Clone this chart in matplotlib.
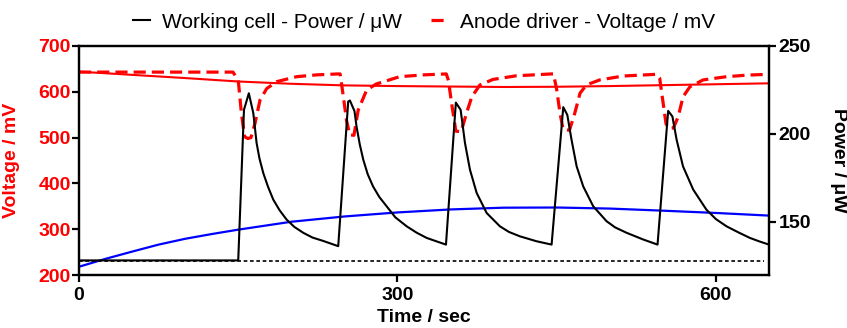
import matplotlib
matplotlib.use("Agg")
import matplotlib.pyplot as plt

plt.rcParams['font.family'] = ['Liberation Sans', 'DejaVu Sans']

# ---- data ----
# Working cell power (uW), right axis
power_t = [0, 150, 155.4, 160, 164.2, 167.3, 170, 173.6, 178, 183, 189, 195.6, 203, 211.3, 220, 230, 244.2,
           253.6, 255.2, 259.5, 261.5, 264.5, 267.8, 272, 277, 283, 289.8, 298, 308.7, 318, 327.5, 337, 345.7,
           355, 359.5, 363.6, 368.3, 374.6, 384, 396.5, 405, 415.4, 431, 445.2,
           456.2, 460, 464, 468.8, 475, 484.4, 497, 505, 515.9, 531.5, 545,
           555, 559, 563, 569, 578.6, 591, 600, 610, 621, 632, 641, 650]
power_v = [128, 128, 213.7, 223.1, 211.8, 194.8, 186, 177.7, 170, 162.6, 156.5, 151.2, 147, 143.7, 141, 139.1, 136.1,
           218.4, 219, 213, 204, 194, 185.3, 177, 170.1, 164, 158.8, 152.5, 147.4, 143.8, 140.8, 138.8, 137,
           217.8, 213.7, 194.8, 179.6, 166.4, 155, 147.4, 144.2, 141.7, 138.9, 137,
           215.2, 210.8, 196.6, 181.5, 170.1, 158.8, 150.3, 146.8, 143.7, 139.9, 137,
           213.1, 209.9, 196.6, 181.5, 168.3, 156.9, 151.5, 147.4, 144, 140.8, 138.8, 137]

# Power baseline (dotted) and power trend (blue), right axis
baseline_t = [0, 645]
baseline_v = [127.5, 127.5]
trend_p_t = [0, 25, 50, 75, 100, 125, 150, 200, 250, 300, 350, 400, 450, 500, 550, 600, 650]
trend_p_v = [124.4, 128.9, 133, 137, 140.3, 143, 145.5, 150, 153, 155.3, 157, 158, 158.1, 157.5, 156.3, 155, 153.5]

# Anode driver voltage (mV), left axis
volt_t = [0, 145, 150, 153, 156, 159, 162, 165.8, 170.5, 176.8, 186, 205, 224, 244,
          246, 249, 252, 255, 259, 263, 271, 280, 302, 325, 346,
          348, 351, 355, 360, 365, 370, 377.7, 390, 412, 445,
          447, 450, 453, 456, 462, 467, 472, 478, 490.7, 512.7, 544,
          547, 550, 553, 556, 560, 564.5, 569, 575.5, 588, 610, 630, 650]
volt_v = [643, 643, 626, 553, 502, 498, 500, 531, 582, 607, 622, 633, 637, 639,
          639, 590, 538, 506, 505, 560, 604, 617, 633, 637, 639,
          625, 575, 514, 513, 553, 589, 615, 627, 635, 639,
          639, 605, 555, 518, 516, 553, 597, 615, 626, 634.5, 638.2,
          630, 580, 530, 520, 521, 546, 589, 611, 626, 633, 636.5, 638.2]

# Voltage trend (red solid), left axis
trend_v_t = [0, 50, 100, 150, 200, 250, 300, 350, 400, 450, 500, 550, 600, 650]
trend_v_v = [644, 637, 630, 622.5, 617.5, 614, 612.5, 611.5, 610.5, 611, 612.5, 614.5, 616.5, 618.5]

left_ticks = [200, 300, 400, 500, 600, 700]
right_ticks = [150, 200, 250]
x_ticks = [0, 300, 600]

# ---- figure ----
fig = plt.figure(figsize=(8.47, 3.28), dpi=100)
ax = fig.add_axes([79/847, 1-275/328, 690/847, 229/328])
ax2 = ax.twinx()

red = '#ff0000'
ax.plot(trend_v_t, trend_v_v, color=red, lw=1.5, solid_capstyle='butt')
lv, = ax.plot(volt_t, volt_v, color=red, lw=2.3, ls=(0, (3.8, 1.9)))

ax2.plot(trend_p_t, trend_p_v, color='#0000ff', lw=1.6)
ax2.plot(baseline_t, baseline_v, color='black', lw=1.2, ls=(0, (2.2, 1.6)))
lp, = ax2.plot(power_t, power_v, color='black', lw=1.5)

ax.set_xlim(0, 650)
ax.set_ylim(200, 700)
ax2.set_ylim(119.7, 250)
ax.set_xticks(x_ticks)
ax.set_yticks(left_ticks)
ax2.set_yticks(right_ticks)

for a in (ax, ax2):
    for s in a.spines.values():
        s.set_linewidth(1.6)

ax.tick_params(axis='y', labelcolor=red, color='black', labelsize=14, length=5, width=1.6, pad=1, direction='out')
ax.tick_params(axis='x', colors='black', labelsize=14, length=5, width=1.6, pad=4, direction='out')
ax2.tick_params(axis='y', colors='black', labelsize=14, length=5, width=1.6, pad=2, direction='out')
for lab in ax.get_yticklabels() + ax.get_xticklabels() + ax2.get_yticklabels():
    lab.set_fontweight('bold')

ax.set_ylabel('Voltage / mV', color=red, fontsize=14, fontweight='bold')
ax.yaxis.set_label_coords((19.5-79)/690, 0.5)
ax2.set_ylabel('Power / μW', color='black', fontsize=14, fontweight='bold', rotation=270, va='center')
ax2.yaxis.set_label_coords((838-79)/690, 0.5)
ax.set_xlabel('Time / sec', fontsize=14, fontweight='bold', va='center')
ax.xaxis.set_label_coords(0.5, (275-318)/229)

fig.legend([lp, lv], ['Working cell - Power / μW', 'Anode driver - Voltage / mV'],
           loc='center', bbox_to_anchor=(424/847, 1-22/328), ncol=2, frameon=False,
           fontsize=15, handlelength=0.85, handletextpad=0.55, columnspacing=1.4)

fig.savefig('out.png', dpi=100)
